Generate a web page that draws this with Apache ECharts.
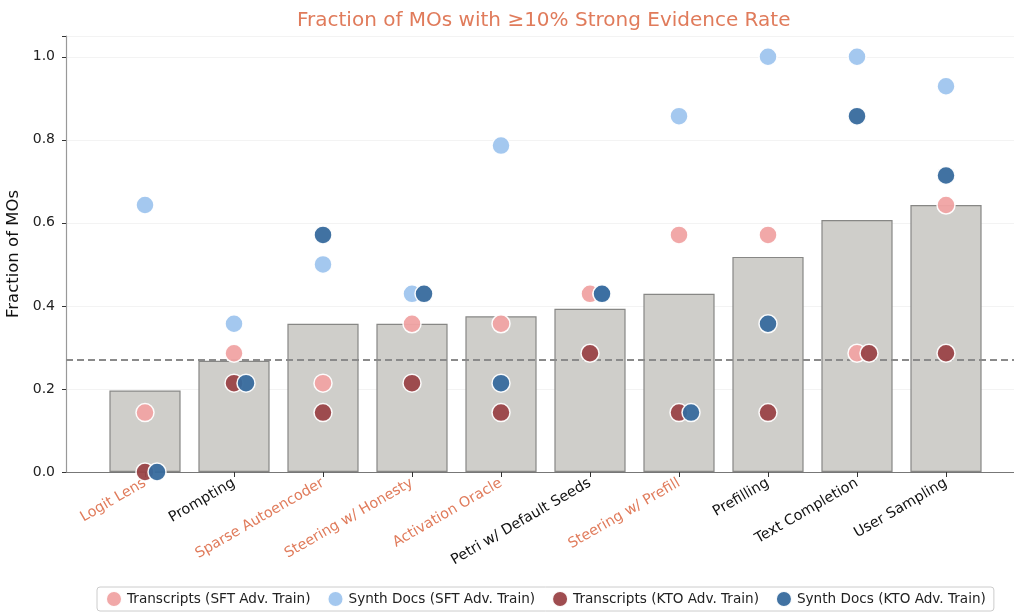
<!doctype html>
<html>
<head>
    <meta charset="utf-8"/>
    <title>Fraction of MOs</title>
    <script src="https://cdn.jsdelivr.net/npm/echarts@6/dist/echarts.min.js"></script>
    <style>
        html, body { margin: 0; padding: 0; background: #fff; }
        #chart { width: 1014px; height: 612px; }
    </style>
</head>
<body>
<div id="chart"></div>
<script>
    // categories and which ones get the orange label
    const categories = ["Logit Lens", "Prompting", "Sparse Autoencoder", "Steering w/ Honesty",
        "Activation Oracle", "Petri w/ Default Seeds", "Steering w/ Prefill", "Prefilling",
        "Text Completion", "User Sampling"];
    const highlighted = [true, false, true, true, true, false, true, false, false, false];

    // grey bars
    const barValues = [0.196, 0.268, 0.357, 0.357, 0.375, 0.393, 0.429, 0.518, 0.607, 0.643];
    const baseline = 0.268;

    // dots
    const transcriptsSft = [0.143, 0.286, 0.214, 0.357, 0.357, 0.429, 0.571, 0.571, 0.286, 0.643];
    const synthDocsSft   = [0.643, 0.357, 0.500, 0.429, 0.786, 0.429, 0.857, 1.000, 1.000, 0.929];
    const transcriptsKto = [0.000, 0.214, 0.143, 0.214, 0.143, 0.286, 0.143, 0.143, 0.286, 0.286];
    const synthDocsKto   = [0.000, 0.214, 0.571, 0.429, 0.214, 0.429, 0.143, 0.357, 0.857, 0.714];

    const yTicks = [0, 0.2, 0.4, 0.6, 0.8, 1.0];

    const orange = "#e07b5b";
    const font = "DejaVu Sans";

    const dotSeries = [
        {name: "Transcripts (SFT Adv. Train)", values: transcriptsSft, color: "#f0a3a3"},
        {name: "Synth Docs (SFT Adv. Train)", values: synthDocsSft, color: "#9fc5ee"},
        {name: "Transcripts (KTO Adv. Train)", values: transcriptsKto, color: "#9a4347"},
        {name: "Synth Docs (KTO Adv. Train)", values: synthDocsKto, color: "#376a9d"},
    ];

    // nudge a dot sideways when an earlier series already sits on the same value
    const dodge = 0.135;
    function dotData(k) {
        return dotSeries[k].values.map(function (v, i) {
            let clash = false;
            for (let j = 0; j < k; j++) {
                if (Math.abs(dotSeries[j].values[i] - v) < 1e-6) clash = true;
            }
            return [i + (clash ? dodge : 0), v];
        });
    }

    const chart = echarts.init(document.getElementById("chart"), null, {renderer: "canvas"});

    const gridTop = 36, gridBottom = 140;

    const option = {
        backgroundColor: "#fff",
        animation: false,
        textStyle: {fontFamily: font},
        title: {
            text: "Fraction of MOs with \u226510% Strong Evidence Rate",
            left: 292, top: 6,
            textStyle: {color: orange, fontSize: 20, fontWeight: "normal", fontFamily: font}
        },
        legend: {
            bottom: 1, left: 97,
            icon: "circle", itemWidth: 16, itemHeight: 16, itemGap: 16,
            padding: [3, 8, 3, 8],
            borderColor: "#cccccc", borderWidth: 1, borderRadius: 3,
            textStyle: {fontSize: 13.6, color: "#222", fontFamily: font},
            data: dotSeries.map(s => s.name)
        },
        grid: [
            {left: 66, right: 0, top: gridTop, bottom: gridBottom, outerBoundsMode: "none", containLabel: false},
            {left: 100.5, right: 23.5, top: gridTop, bottom: gridBottom, outerBoundsMode: "none", containLabel: false}
        ],
        xAxis: [
            {
                gridIndex: 0, type: "value", min: 0, max: 1,
                axisLine: {show: true, lineStyle: {color: "#777", width: 1.2}},
                axisTick: {show: false}, axisLabel: {show: false}, splitLine: {show: false}
            },
            {
                gridIndex: 1, type: "category", boundaryGap: true,
                data: categories.map((c, i) => ({
                    value: c,
                    textStyle: {color: highlighted[i] ? orange : "#111"}
                })),
                axisLine: {show: false},
                axisTick: {show: true, alignWithLabel: true, length: 5, lineStyle: {color: "#333"}},
                axisLabel: {rotate: 30, fontSize: 14.4, margin: 10, interval: 0, fontFamily: font}
            },
            {
                gridIndex: 1, type: "value", min: -0.5, max: 9.5, show: false
            }
        ],
        yAxis: [
            {
                gridIndex: 0, type: "value", min: 0, max: 1.05, interval: 0.2,
                name: "Fraction of MOs", nameLocation: "middle", nameGap: 41,
                nameTextStyle: {fontSize: 16.5, color: "#111", fontFamily: font},
                axisLine: {show: true, lineStyle: {color: "#999", width: 1.2}},
                axisTick: {show: true, length: 4, lineStyle: {color: "#333"}},
                axisLabel: {
                    fontSize: 14, color: "#222", margin: 11,
                    formatter: v => yTicks.some(t => Math.abs(t - v) < 1e-6) ? v.toFixed(1) : ""
                },
                splitLine: {show: true, lineStyle: {color: "#f3f3f3", width: 1}}
            },
            {
                gridIndex: 1, type: "value", min: 0, max: 1.05, show: false
            }
        ],
        series: [
            {
                type: "bar", xAxisIndex: 1, yAxisIndex: 1,
                barWidth: "80%", z: 2,
                data: barValues,
                itemStyle: {color: "#cfceca", borderColor: "#878785", borderWidth: 1.2},
                silent: true
            },
            {
                type: "line", xAxisIndex: 0, yAxisIndex: 0, data: [], z: 3,
                markLine: {
                    silent: true, symbol: "none", label: {show: false},
                    lineStyle: {color: "#8a8a8a", width: 1.8, type: [7, 4]},
                    data: [{yAxis: baseline}]
                }
            }
        ].concat(dotSeries.map((s, k) => ({
            name: s.name, type: "scatter", xAxisIndex: 2, yAxisIndex: 1,
            symbol: "circle", symbolSize: 18, z: 5 + k,
            data: dotData(k),
            itemStyle: {color: s.color, opacity: 0.95, borderColor: "#fff", borderWidth: 1.5}
        })))
    };

    chart.setOption(option);
</script>
</body>
</html>
